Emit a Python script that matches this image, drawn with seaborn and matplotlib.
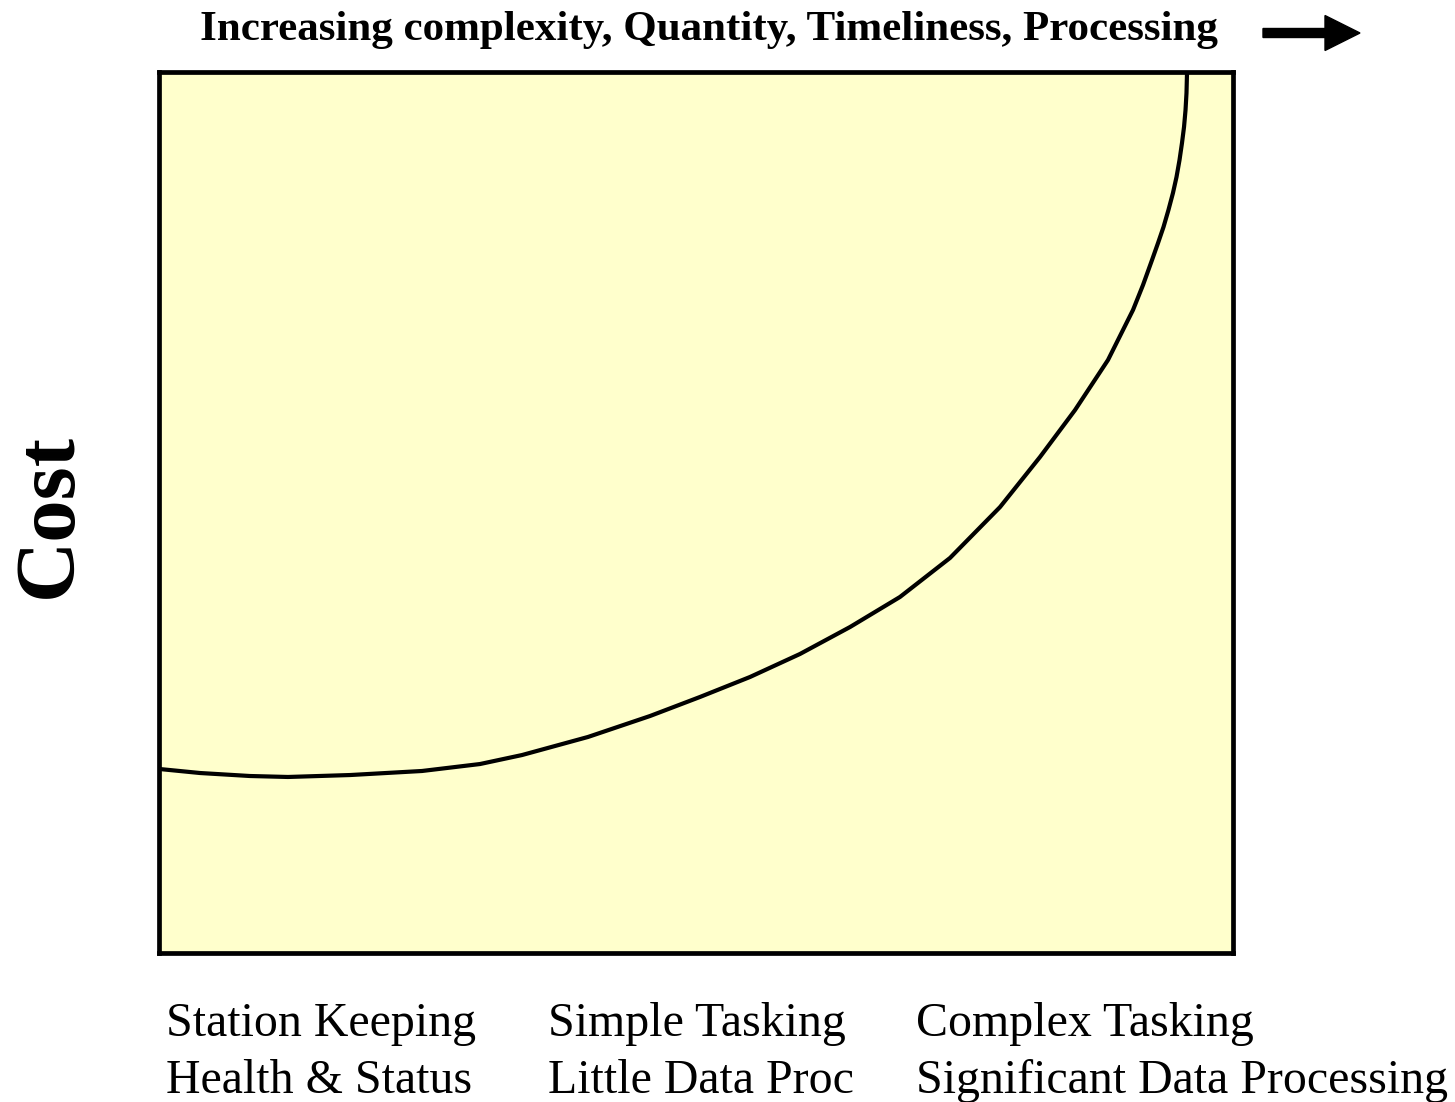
import numpy as np
import matplotlib
matplotlib.use("Agg")
import matplotlib.pyplot as plt
import seaborn as sns
import pandas as pd
from matplotlib.patches import FancyArrow

# curve (x: 0-100 across the box, y: 0-100 up the box)
curve_x = [0.00, 3.82, 8.47, 12.01, 17.78, 24.49, 29.89, 33.80, 39.94, 45.72,
           50.37, 55.03, 59.68, 64.34, 68.99, 73.65, 78.31, 82.03, 85.29,
           88.36, 90.69, 91.62, 92.46, 93.02, 93.53, 93.99, 94.41, 94.74,
           95.02, 95.25, 95.44, 95.58, 95.67, 95.72]
curve_y = [20.89, 20.43, 20.09, 19.98, 20.20, 20.66, 21.45, 22.47, 24.52, 26.90,
           29.06, 31.33, 33.94, 37.00, 40.41, 44.84, 50.62, 56.30, 61.63,
           67.31, 72.99, 75.82, 78.66, 80.59, 82.41, 84.34, 86.27, 88.08,
           90.01, 91.94, 93.76, 95.69, 97.62, 100.0]

top_label = "Increasing complexity, Quantity, Timeliness, Processing"
y_label = "Cost"
bottom_line1 = ["Station Keeping", "Simple Tasking", "Complex Tasking"]
bottom_line2 = ["Health & Status", "Little Data Proc", "Significant Data Processing"]

sns.set_theme(style="white")
plt.rcParams['font.family'] = ['Liberation Serif', 'DejaVu Serif']
plt.rcParams['text.color'] = 'black'

W, H = 1455, 1102
fig = plt.figure(figsize=(W / 100, H / 100), dpi=100)
ax = fig.add_axes([159 / W, 1 - 953 / H, 1074 / W, 881 / H])
ax.set_facecolor("#FFFFCC")

df = pd.DataFrame({"x": curve_x, "y": curve_y})
sns.lineplot(data=df, x="x", y="y", ax=ax, color="black", linewidth=3.0,
             sort=False, estimator=None)
ax.lines[0].set_solid_joinstyle("round")

ax.set_xlim(0, 100)
ax.set_ylim(0, 100)
ax.set_xticks([])
ax.set_yticks([])
ax.set_xlabel("")
ax.set_ylabel("")
for s in ax.spines.values():
    s.set_visible(True)
    s.set_color("black")
    s.set_linewidth(3.4)

# texts
fig.text(708.5 / W, 1 - 40 / H, top_label, ha="center", va="baseline",
         fontsize=31, fontweight="bold")
fig.text(50 / W, 1 - 515 / H, y_label, rotation=90, ha="center", va="center",
         fontsize=61, fontweight="bold")

xs = [166, 548, 916]
for x0, a, b in zip(xs, bottom_line1, bottom_line2):
    fig.text(x0 / W, 1 - 1036 / H, a, ha="left", va="baseline", fontsize=34.5)
    fig.text(x0 / W, 1 - 1093 / H, b, ha="left", va="baseline", fontsize=34.5)

# arrow next to the title
arr = FancyArrow(12.63, (H - 33) / 100, 0.97, 0, width=0.09, head_width=0.35,
                 head_length=0.35, length_includes_head=True,
                 color="black", transform=fig.dpi_scale_trans)
fig.add_artist(arr)

fig.savefig("out.png", dpi=100)
